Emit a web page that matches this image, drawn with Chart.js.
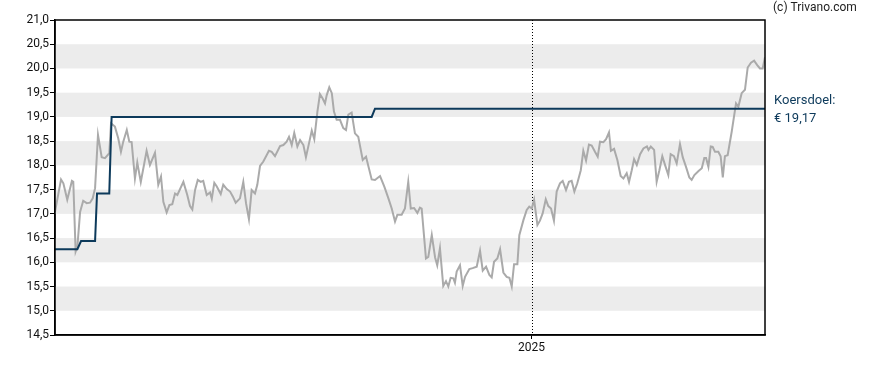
<!DOCTYPE html>
<html>
<head>
<meta charset="utf-8">
<title>Koersdoel</title>
<script src="https://cdn.jsdelivr.net/npm/chart.js@4.4.1/dist/chart.umd.min.js"></script>
<style>
  html, body { margin: 0; padding: 0; background: #fff; }
  #wrap { width: 888px; height: 370px; position: relative; }
</style>
</head>
<body>
<div id="wrap"><canvas id="chart"></canvas></div>
<script>
// days since start of the period (year 2025 starts at day 245)
const days = [
  0, 3.1, 4.3, 6.3, 8.7, 9.4, 10.6, 11.5, 12.9, 14.5, 16.3, 18.0, 19.4, 20.6, 22.1, 24.0, 25.7, 27.9, 28.8, 30.8,
  32.5, 33.9, 35.1, 36.9, 38.2, 39.4, 41.1, 42.3, 44.1, 47.1, 48.8, 51.4, 53.1, 54.5, 55.7, 57.4, 58.8, 60.3, 61.7, 62.9,
  66.0, 68.0, 69.4, 70.6, 72.0, 73.4, 74.9, 76.2, 78.0, 79.7, 80.6, 81.9, 83.1, 85.2, 86.5, 88.3, 90.0, 91.4, 92.9, 95.1,
  96.8, 98.2, 99.7, 101.1, 102.8, 104.0, 105.4, 107.1, 110.0, 111.4, 113.1, 115.7, 117.4, 119.1, 120.3, 121.7, 123.0, 124.6, 126.0, 127.7,
  129.0, 130.6, 132.0, 133.3, 134.9, 136.2, 137.6, 138.8, 139.7, 141.0, 142.3, 143.4, 144.8, 146.5, 148.2, 149.6, 150.8, 152.5, 154.2, 155.9,
  158.2, 159.9, 162.8, 164.5, 167.1, 169.3, 171.4, 173.1, 174.8, 176.0, 178.2, 179.9, 181.6, 182.9, 184.6, 186.3, 187.6, 188.5, 190.7, 191.9,
  193.7, 195.4, 196.5, 197.9, 199.6, 201.0, 202.2, 203.4, 204.8, 205.6, 206.5, 208.2, 209.6, 210.8, 213.0, 214.7, 216.8, 218.5, 219.9, 221.6,
  223.3, 224.5, 225.7, 227.4, 228.8, 230.5, 232.2, 233.6, 234.8, 236.0, 237.7, 238.7, 240.8, 242.5, 243.8, 245.1, 246.3, 248.0, 249.3, 250.7,
  252.3, 253.6, 255.0, 256.5, 257.9, 259.6, 261.0, 262.7, 264.2, 265.6, 267.0, 268.5, 270.3, 271.6, 273.0, 274.5, 275.9, 277.6, 279.0, 280.2,
  281.9, 283.3, 284.8, 285.8, 287.4, 289.1, 290.8, 292.2, 293.9, 295.1, 296.5, 297.7, 299.1, 300.8, 302.5, 304.3, 305.1, 306.3, 308.0, 309.3,
  310.7, 312.2, 313.6, 315.3, 316.5, 318.2, 319.6, 321.3, 322.7, 324.4, 326.1, 327.3, 328.7, 330.7, 332.5, 333.8, 334.7, 335.9, 337.1, 338.1,
  339.3, 341.0, 342.2, 343.3, 344.4, 345.8, 347.9, 350.1, 351.3, 353.0, 354.7, 356.1, 357.8, 359.4, 361.0, 362.4, 363.8, 365.0
];
const prices = [
  17.04, 17.71, 17.63, 17.29, 17.68, 17.66, 16.22, 16.32, 17.04, 17.27, 17.22, 17.23, 17.32, 17.53, 18.63, 18.17, 18.15, 18.25, 18.87, 18.80,
  18.56, 18.28, 18.49, 18.73, 18.49, 18.48, 17.73, 18.06, 17.66, 18.30, 18.01, 18.26, 17.60, 17.77, 17.25, 17.03, 17.18, 17.20, 17.42, 17.39,
  17.66, 17.39, 17.16, 17.09, 17.49, 17.70, 17.66, 17.68, 17.39, 17.44, 17.31, 17.64, 17.57, 17.41, 17.60, 17.51, 17.46, 17.36, 17.23, 17.32,
  17.66, 17.22, 16.89, 17.49, 17.42, 17.60, 17.99, 18.08, 18.30, 18.28, 18.19, 18.40, 18.42, 18.49, 18.59, 18.42, 18.67, 18.39, 18.52, 18.42,
  18.17, 18.46, 18.72, 18.54, 19.11, 19.47, 19.38, 19.28, 19.45, 19.61, 19.49, 19.11, 18.94, 18.94, 18.77, 18.73, 19.05, 19.09, 18.66, 18.59,
  18.11, 18.18, 17.71, 17.70, 17.78, 17.56, 17.32, 17.11, 16.84, 16.98, 16.98, 17.11, 17.66, 17.11, 17.12, 17.02, 17.13, 17.11, 16.08, 16.11,
  16.56, 16.10, 15.94, 16.29, 15.51, 15.61, 15.50, 15.68, 15.67, 15.58, 15.81, 15.94, 15.51, 15.70, 15.86, 15.88, 15.91, 16.24, 15.83, 15.91,
  15.74, 15.69, 16.01, 16.08, 16.27, 15.79, 15.70, 15.68, 15.50, 15.96, 15.96, 16.56, 16.87, 17.08, 17.15, 17.11, 17.29, 16.77, 16.86, 17.01,
  17.30, 17.16, 17.11, 16.86, 17.46, 17.63, 17.68, 17.49, 17.66, 17.68, 17.46, 17.63, 17.90, 18.30, 18.10, 18.43, 18.41, 18.28, 18.18, 18.49,
  18.48, 18.54, 18.68, 18.30, 18.34, 18.11, 17.78, 17.73, 17.84, 17.66, 17.90, 18.13, 18.01, 18.23, 18.35, 18.39, 18.32, 18.39, 18.32, 17.66,
  17.90, 18.19, 18.01, 17.80, 18.23, 18.19, 18.04, 18.44, 18.17, 17.97, 17.75, 17.70, 17.80, 17.88, 17.94, 18.15, 18.15, 17.97, 18.39, 18.38,
  18.28, 18.28, 18.19, 17.75, 18.19, 18.21, 18.70, 19.28, 19.21, 19.49, 19.56, 20.02, 20.12, 20.16, 20.07, 20.00, 20.00, 20.23
];

// analyst price target (stepped)
const targetDays   = [0, 11.5, 13.4, 20.6, 21.6, 27.9, 29.1, 162.8, 164.5, 365];
const targetValues = [16.27, 16.27, 16.44, 16.44, 17.42, 17.42, 19.00, 19.00, 19.17, 19.17];

// axes
const yMin = 14.5, yMax = 21.0, yStep = 0.5;
const yearTickDays = [245];
const yearTickLabels = ['2025'];
const bands = [[15.0, 15.5], [16.0, 16.5], [17.0, 17.5], [18.0, 18.5], [19.0, 19.5], [20.0, 20.5]];

const targetLabel = 'Koersdoel:';
const targetText = '€ ' + targetValues[targetValues.length - 1].toFixed(2).replace('.', ',');
const credit = '(c) Trivano.com';

const FONT = 'Roboto, "Liberation Sans", sans-serif';
const NAVY = '#0d3a5b';

const bandsPlugin = {
  id: 'bands',
  beforeDatasetsDraw(chart) {
    const { ctx, chartArea, scales: { y } } = chart;
    ctx.save();
    ctx.fillStyle = '#ececec';
    bands.forEach(([lo, hi]) => {
      const top = y.getPixelForValue(hi), bot = y.getPixelForValue(lo);
      ctx.fillRect(chartArea.left, top, chartArea.right - chartArea.left, bot - top);
    });
    // dotted year separator
    ctx.strokeStyle = '#000';
    ctx.lineWidth = 1;
    ctx.setLineDash([1, 2]);
    yearTickDays.forEach(d => {
      const px = Math.round(chart.scales.x.getPixelForValue(d)) + 0.5;
      ctx.beginPath();
      ctx.moveTo(px, chartArea.top);
      ctx.lineTo(px, chartArea.bottom);
      ctx.stroke();
    });
    ctx.restore();
  },
  afterDraw(chart) {
    const { ctx, chartArea, scales: { y } } = chart;
    ctx.save();
    // frame
    ctx.strokeStyle = '#000';
    ctx.lineWidth = 1.5;
    ctx.strokeRect(chartArea.left, chartArea.top, chartArea.right - chartArea.left, chartArea.bottom - chartArea.top);
    // labels
    const ty = y.getPixelForValue(targetValues[targetValues.length - 1]);
    ctx.fillStyle = NAVY;
    ctx.font = '13px ' + FONT;
    ctx.textAlign = 'left';
    ctx.textBaseline = 'middle';
    ctx.fillText(targetLabel, chartArea.right + 9, ty - 8);
    ctx.fillText(targetText, chartArea.right + 9, ty + 10);
    ctx.fillStyle = '#222';
    ctx.font = '12px ' + FONT;
    ctx.fillText(credit, chartArea.right + 8, 8);
    ctx.restore();
  }
};

new Chart(document.getElementById('chart'), {
  type: 'line',
  data: {
    datasets: [
      {
        label: 'Koersdoel',
        data: targetDays.map((d, i) => ({ x: d, y: targetValues[i] })),
        borderColor: NAVY,
        borderWidth: 2,
        pointRadius: 0,
        tension: 0
      },
      {
        label: 'Koers',
        data: days.map((d, i) => ({ x: d, y: prices[i] })),
        borderColor: '#aaaaaa',
        borderWidth: 2,
        pointRadius: 0,
        tension: 0
      }
    ]
  },
  options: {
    responsive: true,
    maintainAspectRatio: false,
    animation: false,
    layout: { padding: { top: 20, right: 123, left: 0, bottom: 0 } },
    plugins: { legend: { display: false }, tooltip: { enabled: false } },
    scales: {
      x: {
        type: 'linear',
        min: 0,
        max: 365,
        afterBuildTicks: s => { s.ticks = yearTickDays.map(v => ({ value: v })); },
        afterFit: s => { s.height = 35; },
        ticks: {
          callback: (v) => yearTickLabels[yearTickDays.indexOf(v)] || '',
          color: '#111',
          font: { family: FONT, size: 12 },
          padding: 2,
          maxRotation: 0
        },
        grid: { drawOnChartArea: false, drawTicks: true, tickLength: 4, color: '#000' },
        border: { color: '#000', width: 1.5 }
      },
      y: {
        min: yMin,
        max: yMax,
        afterBuildTicks: s => {
          const t = [];
          for (let v = yMin; v <= yMax + 1e-9; v += yStep) t.push({ value: +v.toFixed(1) });
          s.ticks = t;
        },
        afterFit: s => { s.width = 55; },
        ticks: {
          callback: v => v.toFixed(1).replace('.', ','),
          color: '#111',
          font: { family: FONT, size: 12 },
          padding: 1
        },
        grid: { drawOnChartArea: false, drawTicks: true, tickLength: 5, color: '#000' },
        border: { color: '#000', width: 1.5 }
      }
    }
  },
  plugins: [bandsPlugin]
});
</script>
</body>
</html>
